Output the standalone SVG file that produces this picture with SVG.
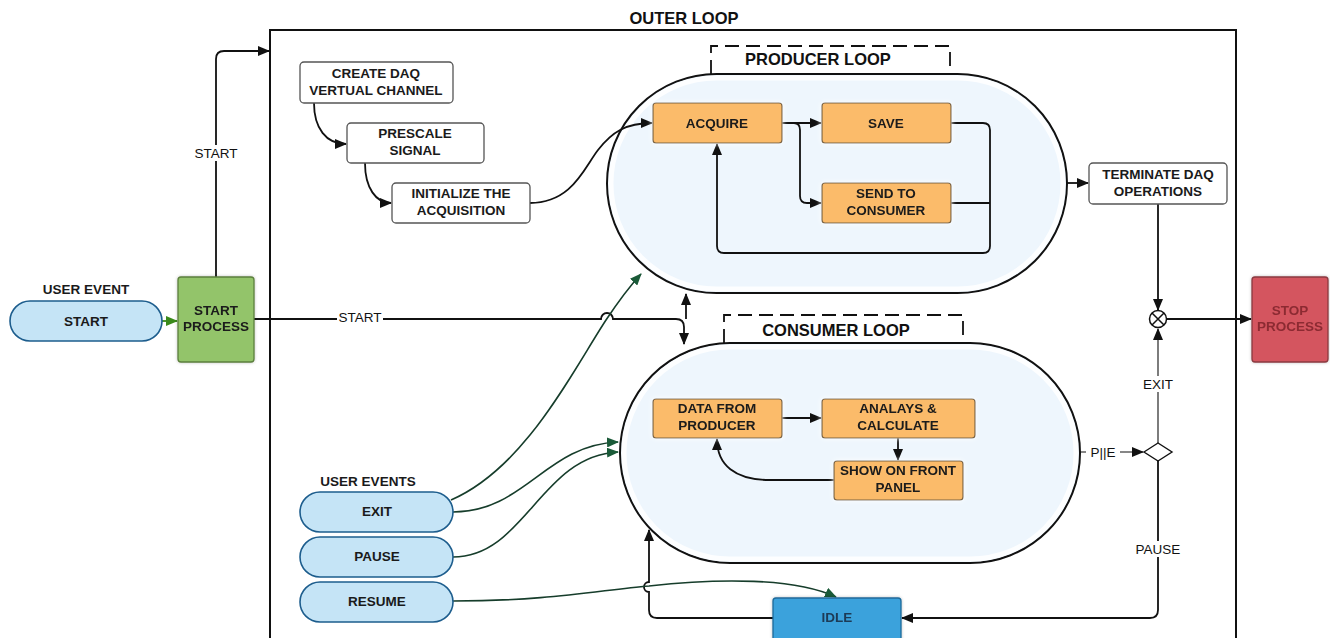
<svg xmlns="http://www.w3.org/2000/svg" width="1330" height="638" viewBox="0 0 1330 638">
  <style>
    .t { font-family: "Liberation Sans", Arial, sans-serif; font-weight: bold; font-size: 13.5px; fill: #1a1a1a; text-anchor: middle; }
    .lbl { font-family: "Liberation Sans", Arial, sans-serif; font-size: 13.5px; fill: #111; text-anchor: middle; }
    .title { font-family: "Liberation Sans", Arial, sans-serif; font-weight: bold; font-size: 16.5px; fill: #111; text-anchor: middle; }
    .step { fill: #fbbb6a; stroke: #7d6440; stroke-width: 1.2; }
    .plain { fill: #fff; stroke: #555; stroke-width: 1.3; }
    .pill { fill: #c5e4f6; stroke: #1d5d8d; stroke-width: 1.6; }
    .loop { fill: #eef6fd; stroke: #111; stroke-width: 2; }
    .loopin { fill: none; stroke: #fff; stroke-width: 5; stroke-opacity: 0.85; }
    .tab { fill: #fff; stroke: #111; stroke-width: 1.8; stroke-dasharray: 14 7; }
    .c { fill: none; stroke: #111; stroke-width: 1.8; }
    .thin { fill: none; stroke: #111; stroke-width: 1.1; }
    .g { fill: none; stroke: #163d2b; stroke-width: 1.6; }
  </style>
  <defs>
    <marker id="ah" markerUnits="userSpaceOnUse" markerWidth="12" markerHeight="10" refX="11" refY="5" orient="auto">
      <path d="M0,0 L12,5 L0,10 z" fill="#111"/>
    </marker>
    <marker id="ahg" markerUnits="userSpaceOnUse" markerWidth="12" markerHeight="10" refX="11" refY="5" orient="auto">
      <path d="M0,0 L12,5 L0,10 z" fill="#1a5a38"/>
    </marker>
    <marker id="ahgreen" markerUnits="userSpaceOnUse" markerWidth="12" markerHeight="10" refX="11" refY="5" orient="auto">
      <path d="M0,0 L12,5 L0,10 z" fill="#3a8a1a"/>
    </marker>
    <filter id="halo" x="-20%" y="-40%" width="140%" height="180%">
      <feDropShadow dx="0" dy="0" stdDeviation="2.5" flood-color="#ffffff" flood-opacity="1"/>
    </filter>
    <filter id="soft" x="-10%" y="-10%" width="120%" height="120%">
      <feDropShadow dx="0" dy="0" stdDeviation="1.5" flood-color="#000" flood-opacity="0.25"/>
    </filter>
  </defs>

  <!-- outer loop frame -->
  <g id="outer-loop">
    <rect x="270" y="30" width="966" height="640" fill="#fff" stroke="#111" stroke-width="2"/>
    <text class="title" x="684" y="24">OUTER LOOP</text>
  </g>

  <!-- producer loop -->
  <g id="producer-loop">
    <path class="tab" d="M711,74 L711,46 L950,46 L950,74"/>
    <text class="title" x="818" y="65">PRODUCER LOOP</text>
    <rect class="loop" x="607" y="74" width="460" height="219" rx="109.5"/>
    <rect class="loopin" x="611" y="78" width="452" height="211" rx="105.5"/>
  </g>

  <!-- consumer loop -->
  <g id="consumer-loop">
    <path class="tab" d="M724,343 L724,315 L963,315 L963,343"/>
    <text class="title" x="836" y="336">CONSUMER LOOP</text>
    <rect class="loop" x="620" y="343" width="460" height="220" rx="110"/>
    <rect class="loopin" x="624" y="347" width="452" height="212" rx="106"/>
  </g>

  <!-- connectors -->
  <g id="connectors">
    <!-- start event into start process -->
    <path d="M162,321 L177,321" fill="none" stroke="#3a8a1a" stroke-width="1.8" marker-end="url(#ahgreen)"/>
    <!-- start process up into the outer loop -->
    <path class="c" d="M216,277 L216,59 Q216,51 224,51 L269,51" marker-end="url(#ah)"/>
    <!-- start process into the loops -->
    <path class="c" d="M254,319 L601,319 A6,6 0 0 1 613,319 L676,319 Q684,319 684,327 L684,344" marker-end="url(#ah)"/>
    <path class="c" d="M686,319 L686,294" marker-end="url(#ah)"/>

    <!-- initialisation chain -->
    <path class="c" d="M314,103 C314,128 326,144 346,144" marker-end="url(#ah)"/>
    <path class="c" d="M365,163 C365,188 376,203 391,203" marker-end="url(#ah)"/>
    <path class="c" d="M530,203 C572,203 584,168 598,150 C612,132 626,123 652,123" marker-end="url(#ah)"/>

    <!-- producer internals -->
    <path class="c" d="M782,123 L821,123" marker-end="url(#ah)"/>
    <path class="c" d="M794,123 Q800,123 800,130 L800,196 Q800,203 807,203 L821,203" marker-end="url(#ah)"/>
    <path class="c" d="M951,123 L983,123 Q990,123 990,130 L990,246 Q990,253 983,253 L724,253 Q717,253 717,246 L717,144" marker-end="url(#ah)"/>
    <path class="c" d="M951,203 L990,203"/>

    <!-- producer to terminate -->
    <path class="c" d="M1067,183 L1088,183" marker-end="url(#ah)"/>
    <path class="c" d="M1158,204 L1158,310" marker-end="url(#ah)"/>
    <path class="c" d="M1167,319 L1251,319" marker-end="url(#ah)"/>

    <!-- consumer internals -->
    <path class="c" d="M782,418 L821,418" marker-end="url(#ah)"/>
    <path class="c" d="M898,438 L898,460" marker-end="url(#ah)"/>
    <path class="c" d="M834,480 L770,480 C735,480 717,465 717,439" marker-end="url(#ah)"/>

    <!-- consumer decision -->
    <path class="thin" d="M1080,452 L1143,452" marker-end="url(#ah)"/>
    <path class="thin" d="M1158,443 L1158,329" marker-end="url(#ah)"/>
    <path class="c" d="M1158,461 L1158,610 Q1158,618 1150,618 L902,618" marker-end="url(#ah)"/>

    <!-- idle back into consumer loop -->
    <path class="c" d="M773,618 L657,618 Q649,618 649,610 L649,592 A5,5 0 0 1 649,582 L649,530" marker-end="url(#ah)"/>

    <!-- user events -->
    <path class="g" d="M451,500 C525,468 572,372 606,320 C620,299 630,286 641,274" marker-end="url(#ahg)"/>
    <path class="g" d="M453,512 C525,512 545,445 618,442" marker-end="url(#ahg)"/>
    <path class="g" d="M453,557 C525,557 540,456 618,452" marker-end="url(#ahg)"/>
    <path class="g" d="M453,601 C550,601 600,590 649,586 C720,578 795,578 836,597" marker-end="url(#ahg)"/>

    <!-- connector labels -->
    <rect x="192" y="145" width="48" height="16" fill="#fff"/>
    <text class="lbl" x="216" y="158">START</text>
    <rect x="337" y="311" width="46" height="14" fill="#fff"/>
    <text class="lbl" x="360" y="322">START</text>
    <rect x="1140" y="376" width="36" height="16" fill="#fff"/>
    <text class="lbl" x="1158" y="389">EXIT</text>
    <rect x="1134" y="541" width="48" height="16" fill="#fff"/>
    <text class="lbl" x="1158" y="554">PAUSE</text>
    <rect x="1086" y="445" width="34" height="15" fill="#fff"/>
    <text class="lbl" x="1103" y="457">P||E</text>
  </g>

  <!-- start event -->
  <g id="start-event">
    <text class="t" x="86" y="294">USER EVENT</text>
    <rect class="pill" x="10" y="301" width="152" height="40" rx="20"/>
    <text class="t" x="86" y="326">START</text>
  </g>

  <g id="start-process" filter="url(#soft)">
    <rect x="178" y="277" width="76" height="85" rx="3" fill="#93c46b" stroke="#5b7f3d" stroke-width="1.3"/>
    <text class="t" x="216" y="315" fill="#1f3316">START</text>
    <text class="t" x="216" y="331" fill="#1f3316">PROCESS</text>
  </g>

  <g id="stop-process" filter="url(#soft)">
    <rect x="1252" y="277" width="76" height="85" rx="3" fill="#d4555e" stroke="#8b3a40" stroke-width="1.3"/>
    <text class="t" x="1290" y="315" style="fill:#8c2b33">STOP</text>
    <text class="t" x="1290" y="331" style="fill:#8c2b33">PROCESS</text>
  </g>

  <g id="create-daq">
    <rect class="plain" x="300" y="62" width="153" height="41" rx="4"/>
    <text class="t" x="376" y="78">CREATE DAQ</text>
    <text class="t" x="376" y="95">VERTUAL CHANNEL</text>
  </g>
  <g id="prescale">
    <rect class="plain" x="347" y="123" width="137" height="40" rx="4"/>
    <text class="t" x="415" y="138">PRESCALE</text>
    <text class="t" x="415" y="155">SIGNAL</text>
  </g>
  <g id="initialize">
    <rect class="plain" x="392" y="183" width="138" height="40" rx="4"/>
    <text class="t" x="461" y="198">INITIALIZE THE</text>
    <text class="t" x="461" y="215">ACQUISITION</text>
  </g>

  <g id="acquire" filter="url(#halo)">
    <rect class="step" x="653" y="103" width="129" height="40" rx="3"/>
    <text class="t" x="717" y="128">ACQUIRE</text>
  </g>
  <g id="save" filter="url(#halo)">
    <rect class="step" x="822" y="103" width="129" height="40" rx="3"/>
    <text class="t" x="886" y="128">SAVE</text>
  </g>
  <g id="send-to-consumer" filter="url(#halo)">
    <rect class="step" x="822" y="183" width="129" height="40" rx="3"/>
    <text class="t" x="886" y="198">SEND TO</text>
    <text class="t" x="886" y="215">CONSUMER</text>
  </g>

  <g id="terminate-daq">
    <rect class="plain" x="1089" y="163" width="138" height="41" rx="4"/>
    <text class="t" x="1158" y="179">TERMINATE DAQ</text>
    <text class="t" x="1158" y="196">OPERATIONS</text>
  </g>

  <g id="exit-join">
    <circle cx="1158" cy="319" r="8.5" fill="#fff" stroke="#111" stroke-width="1.5"/>
    <path d="M1152,313 L1164,325 M1164,313 L1152,325" stroke="#111" stroke-width="1.5"/>
  </g>

  <g id="decision">
    <path d="M1144,452 L1158,443 L1172,452 L1158,461 z" fill="#fff" stroke="#111" stroke-width="1.4"/>
  </g>

  <g id="data-from-producer" filter="url(#halo)">
    <rect class="step" x="653" y="399" width="129" height="39" rx="3"/>
    <text class="t" x="717" y="413">DATA FROM</text>
    <text class="t" x="717" y="430">PRODUCER</text>
  </g>
  <g id="analays-calculate" filter="url(#halo)">
    <rect class="step" x="822" y="399" width="153" height="39" rx="3"/>
    <text class="t" x="898" y="413">ANALAYS &amp;</text>
    <text class="t" x="898" y="430">CALCULATE</text>
  </g>
  <g id="show-front-panel" filter="url(#halo)">
    <rect class="step" x="834" y="461" width="129" height="39" rx="3"/>
    <text class="t" x="898" y="475">SHOW ON FRONT</text>
    <text class="t" x="898" y="492">PANEL</text>
  </g>

  <g id="idle" filter="url(#soft)">
    <rect x="773" y="598" width="128" height="46" rx="3" fill="#3aa2dc" stroke="#1f6a9a" stroke-width="1.3"/>
    <text class="t" x="837" y="622" style="fill:#1e3a56">IDLE</text>
  </g>

  <g id="user-events">
    <text class="t" x="368" y="486">USER EVENTS</text>
  </g>
  <g id="exit-event">
    <rect class="pill" x="300" y="492" width="153" height="40" rx="20"/>
    <text class="t" x="377" y="516">EXIT</text>
  </g>
  <g id="pause-event">
    <rect class="pill" x="300" y="537" width="153" height="40" rx="20"/>
    <text class="t" x="377" y="561">PAUSE</text>
  </g>
  <g id="resume-event">
    <rect class="pill" x="300" y="582" width="153" height="40" rx="20"/>
    <text class="t" x="377" y="606">RESUME</text>
  </g>
</svg>
